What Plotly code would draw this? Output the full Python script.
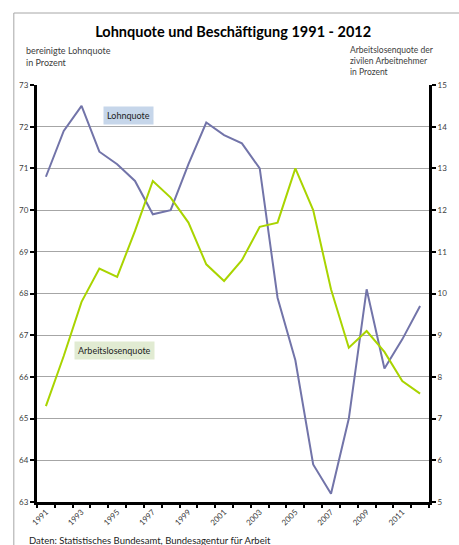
import plotly.graph_objects as go

# Jahre 1991-2012
years = [str(y) for y in range(1991, 2013)]

# bereinigte Lohnquote in Prozent
lohnquote = [70.8, 71.9, 72.5, 71.4, 71.1, 70.7, 69.9, 70.0, 71.1, 72.1, 71.8,
             71.6, 71.0, 67.9, 66.4, 63.9, 63.2, 65.0, 68.1, 66.2, 66.9, 67.7]

# Arbeitslosenquote der zivilen Arbeitnehmer in Prozent
arbeitslosenquote = [7.3, 8.5, 9.8, 10.6, 10.4, 11.5, 12.7, 12.3, 11.7, 10.7, 10.3,
                     10.8, 11.6, 11.7, 13.0, 12.0, 10.1, 8.7, 9.1, 8.6, 7.9, 7.6]

left_ticks = list(range(63, 74))
right_ticks = list(range(5, 16))

FONT = "Lato"
TXT = "#404040"
idx = list(range(len(years)))

fig = go.Figure()
fig.add_trace(go.Scatter(x=idx, y=lohnquote, mode="lines", name="Lohnquote",
                         line=dict(color="#7274a9", width=2), yaxis="y"))
fig.add_trace(go.Scatter(x=idx, y=arbeitslosenquote, mode="lines", name="Arbeitslosenquote",
                         line=dict(color="#a9d400", width=2), yaxis="y2"))
# invisible trace carrying the year labels on the second x axis
fig.add_trace(go.Scatter(x=idx, y=lohnquote, mode="lines", xaxis="x2", yaxis="y",
                         line=dict(width=0), hoverinfo="skip", showlegend=False, opacity=0))

fig.update_layout(
    width=459, height=545,
    margin=dict(l=37, r=16, t=85, b=43),
    paper_bgcolor="white", plot_bgcolor="white",
    showlegend=False,
    font=dict(family=FONT, color=TXT, size=8),
    title=dict(text="<b>Lohnquote und Beschäftigung 1991 - 2012</b>",
               x=0.508, xanchor="center", y=1 - 32 / 545, yanchor="middle",
               font=dict(family=FONT, size=14.5, color="#000000")),
    xaxis=dict(range=[-0.5, len(years) - 0.5],
               tickvals=[i - 0.5 for i in range(len(years) + 1)],
               ticktext=[""] * (len(years) + 1),
               ticks="outside", ticklen=3, tickwidth=2, tickcolor="black",
               showgrid=False, zeroline=False,
               showline=True, linecolor="black", linewidth=3),
    xaxis2=dict(overlaying="x", matches="x", side="bottom",
                tickvals=idx[::2], ticktext=years[::2],
                tickangle=-45, ticks="", showline=False, showgrid=False,
                zeroline=False, ticklabelstandoff=3,
                tickfont=dict(size=8, color=TXT)),
    yaxis=dict(range=[63, 73], tickvals=left_ticks,
               ticks="outside", ticklen=4, tickwidth=2, tickcolor="black",
               showgrid=True, gridcolor="#a6a6a6", gridwidth=1,
               zeroline=False, showline=True, linecolor="black", linewidth=3,
               tickfont=dict(size=8, color=TXT)),
    yaxis2=dict(range=[5, 15], tickvals=right_ticks, overlaying="y", side="right",
                ticks="outside", ticklen=4, tickwidth=2, tickcolor="black",
                showgrid=False, zeroline=False,
                showline=True, linecolor="black", linewidth=3,
                tickfont=dict(size=8, color=TXT)),
)

# outer frame
fig.add_shape(type="rect", xref="paper", yref="paper",
              x0=-24 / 406, x1=1.3, y0=-0.3, y1=1 + 72 / 417,
              line=dict(color="#a6a6a6", width=1), layer="below")

# series labels
fig.add_annotation(x=4.62, y=72.28, xref="x", yref="y", text="Lohnquote",
                   showarrow=False, bgcolor="#c6d6ea", borderpad=3,
                   font=dict(size=9, color="#222222"))
fig.add_annotation(x=3.86, y=66.64, xref="x", yref="y", text="Arbeitslosenquote",
                   showarrow=False, bgcolor="#e1ebd2", borderpad=3,
                   font=dict(size=9, color="#222222"))

# axis titles
fig.add_annotation(x=-13 / 406, y=1 + 42 / 417, xref="paper", yref="paper",
                   xanchor="left", yanchor="top", align="left", showarrow=False,
                   text="bereinigte Lohnquote<br>in Prozent",
                   font=dict(size=9, color=TXT))
fig.add_annotation(x=322 / 406, y=1 + 42 / 417, xref="paper", yref="paper",
                   xanchor="left", yanchor="top", align="left", showarrow=False,
                   text="Arbeitslosenquote der<br>zivilen Arbeitnehmer<br>in Prozent",
                   font=dict(size=8.5, color=TXT))

# source note
fig.add_annotation(x=-10 / 406, y=-38 / 417, xref="paper", yref="paper",
                   xanchor="left", yanchor="middle", showarrow=False,
                   text="Daten: Statistisches Bundesamt, Bundesagentur für Arbeit",
                   font=dict(size=9.5, color="#222222"))

fig.write_html("out.html")
